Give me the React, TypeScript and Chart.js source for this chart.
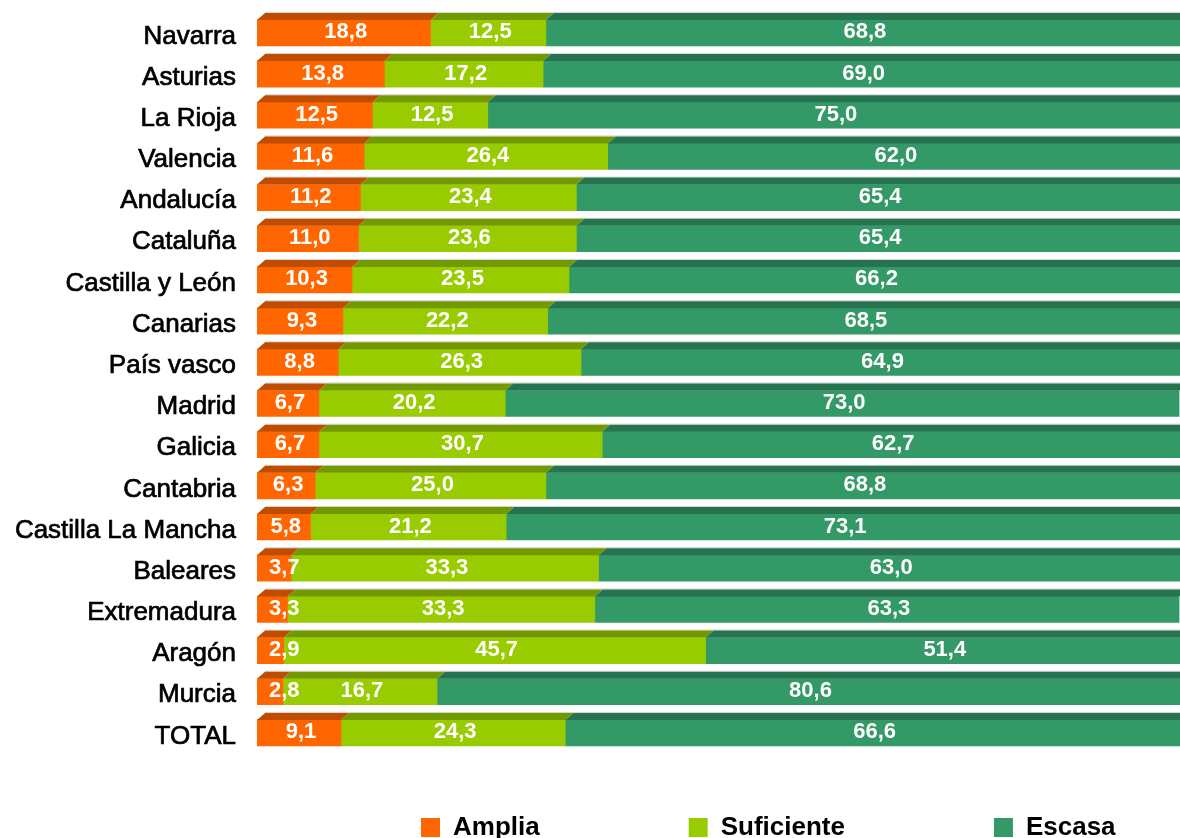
import React, { useEffect, useRef } from 'react';
import { Chart, registerables } from 'chart.js';

Chart.register(...registerables);

const regions = [
  'Navarra', 'Asturias', 'La Rioja', 'Valencia', 'Andalucía', 'Cataluña',
  'Castilla y León', 'Canarias', 'País vasco', 'Madrid', 'Galicia', 'Cantabria',
  'Castilla La Mancha', 'Baleares', 'Extremadura', 'Aragón', 'Murcia', 'TOTAL',
];
const amplia = [18.8, 13.8, 12.5, 11.6, 11.2, 11.0, 10.3, 9.3, 8.8, 6.7, 6.7, 6.3, 5.8, 3.7, 3.3, 2.9, 2.8, 9.1];
const suficiente = [12.5, 17.2, 12.5, 26.4, 23.4, 23.6, 23.5, 22.2, 26.3, 20.2, 30.7, 25.0, 21.2, 33.3, 33.3, 45.7, 16.7, 24.3];
const escasa = [68.8, 69.0, 75.0, 62.0, 65.4, 65.4, 66.2, 68.5, 64.9, 73.0, 62.7, 68.8, 73.1, 63.0, 63.3, 51.4, 80.6, 66.6];
const seriesNames = ['Amplia', 'Suficiente', 'Escasa'];
const frontColors = ['#FF6600', '#99CC00', '#339966'];
const topColors = ['#C04C00', '#739900', '#267350'];

const FONT = "'Liberation Sans', Arial, Helvetica, sans-serif";
const DEPTH_X = 8;
const DEPTH_Y = 7;

const depthAndLabels = {
  id: 'depthAndLabels',
  afterDatasetsDraw(chart: any) {
    const ctx = chart.ctx;
    ctx.save();
    // 3D top faces
    chart.data.datasets.forEach((ds: any, di: number) => {
      const meta = chart.getDatasetMeta(di);
      if (meta.hidden) return;
      meta.data.forEach((el: any) => {
        const { x, y, base, height } = el.getProps(['x', 'y', 'base', 'height'], true);
        const top = y - height / 2;
        const x0 = Math.min(x, base);
        const x1 = Math.max(x, base);
        ctx.fillStyle = 'rgba(150,160,155,0.45)';
        ctx.fillRect(x0 + DEPTH_X, top - DEPTH_Y - 1, x1 - x0, 1);
        ctx.fillStyle = topColors[di];
        ctx.beginPath();
        ctx.moveTo(x0, top);
        ctx.lineTo(x0 + DEPTH_X, top - DEPTH_Y);
        ctx.lineTo(x1 + DEPTH_X, top - DEPTH_Y);
        ctx.lineTo(x1, top);
        ctx.closePath();
        ctx.fill();
      });
    });
    // value labels
    ctx.font = `bold 22px ${FONT}`;
    ctx.fillStyle = '#ffffff';
    ctx.textAlign = 'center';
    ctx.textBaseline = 'alphabetic';
    chart.data.datasets.forEach((ds: any, di: number) => {
      const meta = chart.getDatasetMeta(di);
      if (meta.hidden) return;
      meta.data.forEach((el: any, i: number) => {
        const { x, y, base } = el.getProps(['x', 'y', 'base'], true);
        const x0 = Math.min(x, base);
        const x1 = Math.min(Math.max(x, base), chart.chartArea.right);
        const txt = Number(ds.data[i]).toFixed(1).replace('.', ',');
        const w = ctx.measureText(txt).width;
        let cx = (x0 + x1) / 2 + 2;
        cx = Math.max(cx, x0 + 12 + w / 2);
        ctx.fillText(txt, cx, y + 5.5);
      });
    });
    ctx.restore();
  },
};

const legendPlacement = {
  id: 'legendPlacement',
  afterLayout(chart: any) {
    const lg = chart.legend;
    if (!lg) return;
    const pad = lg.options.labels.padding;
    lg.left = 421 - pad;
    lg.right = lg.left + 2000;
    lg.top = 814.5 - pad;
    lg.bottom = 900;
  },
};

export default function App() {
  const canvasRef = useRef<HTMLCanvasElement | null>(null);

  useEffect(() => {
    const canvas = canvasRef.current;
    if (!canvas) return;
    const datasets = [amplia, suficiente, escasa].map((d, i) => ({
      label: seriesNames[i],
      data: d,
      backgroundColor: frontColors[i],
      borderWidth: 0,
      barThickness: 26,
    }));
    const chart = new Chart(canvas, {
      type: 'bar',
      data: { labels: regions, datasets },
      options: {
        indexAxis: 'y',
        responsive: false,
        animation: false,
        layout: { padding: { top: 12.3, right: 0, bottom: 0, left: 0 } },
        scales: {
          x: { stacked: true, min: 0, max: 100, display: false },
          y: {
            stacked: true,
            grid: { display: false, drawTicks: false },
            border: { display: false },
            ticks: {
              color: '#000',
              autoSkip: false,
              padding: 21,
              labelOffset: 3.5,
              textStrokeColor: '#000',
              textStrokeWidth: 0.7,
              font: { family: FONT, size: 26 },
            },
            afterFit: (s: any) => {
              s.width = 257;
              s.paddingTop = 0;
              s.paddingBottom = 0;
            },
          },
        },
        plugins: {
          legend: {
            position: 'bottom',
            align: 'start',
            maxHeight: 84.5,
            labels: {
              boxWidth: 19,
              boxHeight: 19,
              padding: 149,
              color: '#000',
              font: { family: FONT, size: 26, weight: 'bold' },
            },
          },
          tooltip: { enabled: false },
        },
      } as any,
      plugins: [depthAndLabels, legendPlacement],
    });
    return () => chart.destroy();
  }, []);

  return (
    <div
      style={{
        position: 'fixed',
        left: 0,
        top: 0,
        width: 1180,
        height: 838,
        overflow: 'hidden',
        background: '#fff',
      }}
    >
      <canvas ref={canvasRef} width={1180} height={838} style={{ display: 'block' }} />
    </div>
  );
}
